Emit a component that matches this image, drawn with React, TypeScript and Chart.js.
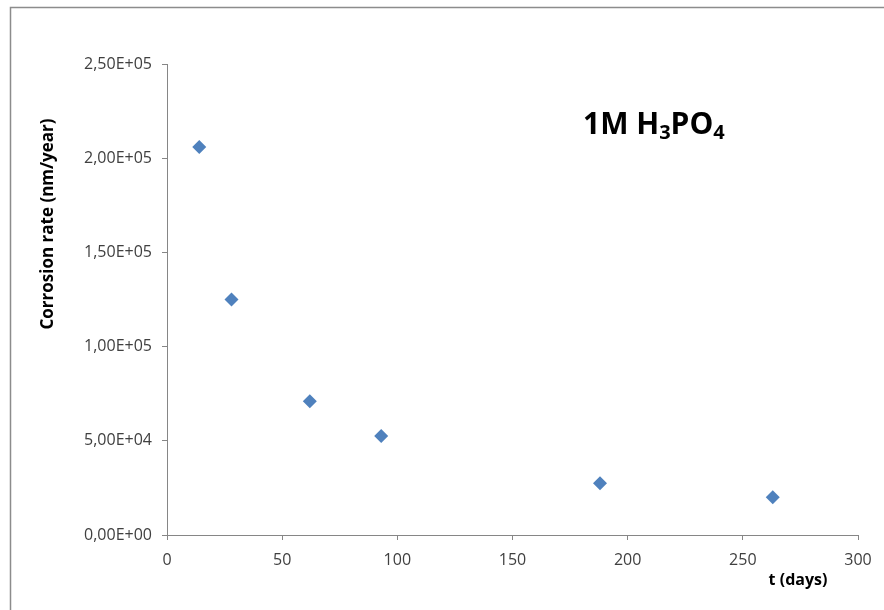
import React, { useEffect, useRef } from 'react';
import { Chart, registerables } from 'chart.js';
Chart.register(...registerables);

const days = [14, 28, 62, 93, 188, 263];
const rates = [206000, 125000, 71000, 52500, 27500, 20000];
const xMin = 0, xMax = 300, xStep = 50;
const yMin = 0, yMax = 250000, yStep = 50000;
const yTitle = 'Corrosion rate (nm/year)';
const xTitle = 't (days)';
const mainTitleParts: [string, boolean][] = [['1M H', false], ['3', true], ['PO', false], ['4', true]];

function fmtSci(v: number): string {
  if (v === 0) return '0,00E+00';
  const exp = Math.floor(Math.log10(Math.abs(v)) + 1e-9);
  const mant = (v / Math.pow(10, exp)).toFixed(2).replace('.', ',');
  const sign = exp < 0 ? '-' : '+';
  const e = String(Math.abs(exp)).padStart(2, '0');
  return `${mant}E${sign}${e}`;
}

const FONT = '"Open Sans", Lato, sans-serif';

const textPlugin = {
  id: 'textPlugin',
  afterDraw(chart: any) {
    const ctx = chart.ctx as CanvasRenderingContext2D;
    ctx.save();
    // outer frame
    ctx.strokeStyle = '#8c8c8c';
    ctx.lineWidth = 1.5;
    ctx.beginPath();
    ctx.moveTo(10.5, 610);
    ctx.lineTo(10.5, 7.5);
    ctx.lineTo(884, 7.5);
    ctx.stroke();

    ctx.fillStyle = '#000';
    // y title
    ctx.save();
    ctx.translate(48, 224);
    ctx.rotate(-Math.PI / 2);
    ctx.font = `bold 17px ${FONT}`;
    ctx.textAlign = 'center';
    ctx.textBaseline = 'middle';
    ctx.fillText(yTitle, 0, 0);
    ctx.restore();

    // x title
    ctx.font = `bold 16px ${FONT}`;
    ctx.textAlign = 'center';
    ctx.textBaseline = 'middle';
    ctx.fillText(xTitle, 798, 580);

    // main title with subscripts
    ctx.textAlign = 'left';
    ctx.textBaseline = 'alphabetic';
    let x = 583;
    const base = 134;
    for (const [t, sub] of mainTitleParts) {
      ctx.font = sub ? `bold 20px ${FONT}` : `bold 30px ${FONT}`;
      ctx.fillText(t, x, sub ? base + 5 : base);
      x += ctx.measureText(t).width;
    }
    ctx.restore();
  },
};

export default function App() {
  const ref = useRef<HTMLCanvasElement>(null);
  useEffect(() => {
    if (!ref.current) return;
    const chart = new Chart(ref.current, {
      type: 'scatter',
      data: {
        datasets: [
          {
            data: days.map((d, i) => ({ x: d, y: rates[i] })),
            backgroundColor: '#4F81BD',
            borderColor: '#4F81BD',
            pointStyle: 'rectRot',
            pointRadius: 7,
            pointHoverRadius: 7,
            borderWidth: 0,
          },
        ],
      },
      options: {
        responsive: false,
        animation: false,
        layout: { padding: { left: 0, top: 64, right: 26, bottom: 0 } },
        plugins: { legend: { display: false }, tooltip: { enabled: false }, title: { display: false } },
        scales: {
          x: {
            type: 'linear',
            min: xMin,
            max: xMax,
            afterFit(scale: any) { scale.height = 75; },
            ticks: { stepSize: xStep, color: '#404040', font: { family: FONT, size: 16 }, padding: 11 },
            grid: { drawOnChartArea: false, drawTicks: true, tickLength: 5, color: '#868686' },
            border: { display: true, color: '#868686', width: 1 },
          },
          y: {
            type: 'linear',
            min: yMin,
            max: yMax,
            afterFit(scale: any) { scale.width = 167; },
            ticks: { stepSize: yStep, color: '#404040', font: { family: FONT, size: 16 }, padding: 10, callback: (v: any) => fmtSci(Number(v)) },
            grid: { drawOnChartArea: false, drawTicks: true, tickLength: 5, color: '#868686' },
            border: { display: true, color: '#868686', width: 1 },
          },
        },
      },
      plugins: [textPlugin],
    });
    return () => chart.destroy();
  }, []);
  return (
    <div style={{ position: 'fixed', left: 0, top: 0, width: 884, height: 610, background: '#fff' }}>
      <canvas ref={ref} width={884} height={610} style={{ display: 'block' }} />
    </div>
  );
}
